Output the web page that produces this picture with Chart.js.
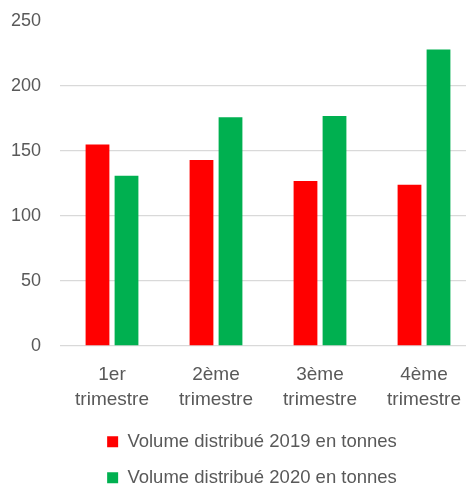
<!DOCTYPE html>
<html>
<head>
<meta charset="utf-8">
<script src="https://cdn.jsdelivr.net/npm/chart.js@4/dist/chart.umd.min.js"></script>
<style>
    html, body { margin: 0; padding: 0; overflow: hidden; background: #fff; }
    canvas { display: block; }
</style>
</head>
<body>
<canvas id="ctx-volume" width="504" height="497"></canvas>
<script>
const categories = [
    ['1er', 'trimestre'],
    ['2ème', 'trimestre'],
    ['3ème', 'trimestre'],
    ['4ème', 'trimestre']
];
const volume2019 = [155, 143, 127, 124];
const volume2020 = [131, 176, 177, 228];
const seriesLabels = [
    'Volume distribué 2019 en tonnes',
    'Volume distribué 2020 en tonnes'
];
const yTicks = [0, 50, 100, 150, 200, 250];

const textColor = '#595959';
const gridColor = '#d9d9d9';
const fontFamily = '"Liberation Sans", Arial, sans-serif';

const ctx = document.getElementById('ctx-volume');

const chart = new Chart(ctx, {
    type: 'bar',
    data: {
        labels: categories,
        datasets: [
            {
                label: seriesLabels[0],
                data: volume2019,
                backgroundColor: '#ff0000',
                categoryPercentage: 0.558,
                barPercentage: 0.82
            },
            {
                label: seriesLabels[1],
                data: volume2020,
                backgroundColor: '#00b050',
                categoryPercentage: 0.558,
                barPercentage: 0.82
            }
        ]
    },
    options: {
        responsive: false,
        animation: false,
        layout: {
            padding: { top: 21, left: 0, right: 0, bottom: 0 }
        },
        plugins: {
            tooltip: { enabled: false },
            legend: {
                position: 'bottom',
                labels: {
                    color: textColor,
                    font: { family: fontFamily, size: 18.5 },
                    boxWidth: 11,
                    boxHeight: 11,
                    padding: 17.5
                }
            }
        },
        scales: {
            x: {
                grid: { display: false },
                border: { display: false },
                ticks: {
                    color: textColor,
                    font: { family: fontFamily, size: 19, lineHeight: 25 / 19 },
                    padding: 8,
                    maxRotation: 0,
                    autoSkip: false
                },
                afterFit: (scale) => { scale.height = 69; }
            },
            y: {
                min: 0,
                max: 250,
                afterBuildTicks: (scale) => {
                    scale.ticks = yTicks.map(v => ({ value: v }));
                },
                grid: {
                    color: (c) => (c.tick && c.tick.value === 250) ? 'rgba(0,0,0,0)' : gridColor,
                    lineWidth: 1.3,
                    drawTicks: false
                },
                border: { display: false },
                ticks: {
                    color: textColor,
                    font: { family: fontFamily, size: 18 },
                    padding: 19
                },
                afterFit: (scale) => {
                    scale.width = 60;
                    // the tick padding would otherwise push the plot down
                    scale.paddingTop = 8;
                    scale.paddingBottom = 8;
                }
            },
            yRight: {
                position: 'right',
                grid: { display: false },
                border: { display: false },
                ticks: { display: false },
                afterFit: (scale) => { scale.width = 28; }
            }
        }
    }
});
</script>
</body>
</html>
